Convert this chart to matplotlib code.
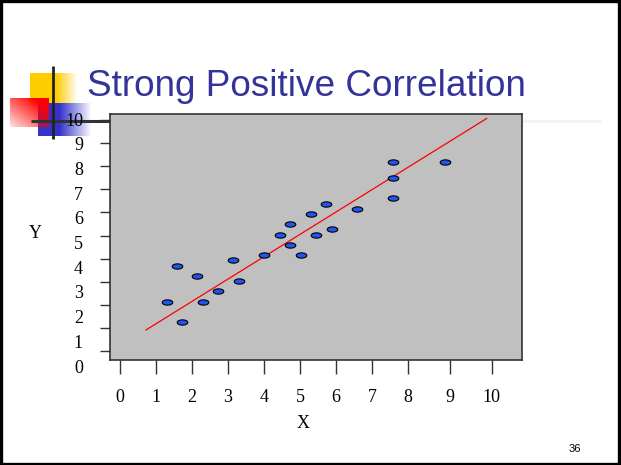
import numpy as np
import matplotlib
matplotlib.use('Agg')
from matplotlib import pyplot as plt
from matplotlib.path import Path
from matplotlib.patches import Rectangle

# scatter data
x_vals = [1.30, 1.57, 1.71, 2.15, 2.30, 2.72, 3.15, 3.30, 4.01, 4.44, 4.72,
          4.72, 5.02, 5.30, 5.44, 5.73, 5.88, 6.59, 7.59, 7.59, 7.59, 9.03]
y_vals = [2.13, 3.69, 1.24, 3.26, 2.13, 2.58, 3.93, 3.03, 4.14, 5.03, 5.48,
          4.59, 4.14, 5.93, 5.03, 6.38, 5.27, 6.16, 8.17, 7.49, 6.61, 8.17]

# fitted line end points
fit_x = [0.72, 10.19]
fit_y = [0.91, 10.07]

xtick_pos = [0, 1, 2, 3, 4, 5, 6, 7, 8, 9.17, 10.33]
xtick_labels = [str(i) for i in range(11)]
ytick_pos = list(range(11))
ytick_labels = [str(i) for i in range(11)]

title = 'Strong Positive Correlation'
page_no = '36'

W, H = 621, 465
fig = plt.figure(figsize=(W / 100, H / 100), dpi=100)
fig.patch.set_facecolor('white')

def fx(px):
    return px / W

def fy(py):
    return 1 - py / H

# slide decoration, drawn in pixel coordinates
deco = fig.add_axes([0, 0, 1, 1], zorder=0)
deco.set_xlim(0, W)
deco.set_ylim(H, 0)
deco.axis('off')

def grad_block(x0, x1, y0, y1, rgb, alpha):
    img = np.zeros(alpha.shape + (4,))
    img[..., :3] = rgb
    img[..., 3] = alpha
    deco.imshow(img, extent=(x0, x1, y1, y0), interpolation='bilinear', aspect='auto')

n = 64
u = np.linspace(0, 1, n)
# yellow: solid on the left, fading out to the right
a_y = np.clip((1 - u) / 0.45, 0, 1)
grad_block(30, 78, 74, 103, (1.0, 0.8, 0.0), np.tile(a_y, (n, 1)))
# blue: solid on the left, fading out to the right
a_b = np.clip((1 - u) / 0.6, 0, 1)
grad_block(38, 92, 103, 136, (0.2, 0.2, 0.8), np.tile(a_b, (n, 1)))
# red: strong at top-right, pale at bottom-left
uu, vv = np.meshgrid(u, u)
a_r = np.clip(0.12 + 0.9 * (uu * 0.6 + (1 - vv) * 0.6), 0, 1)
grad_block(10, 49, 98, 127, (1.0, 0.0, 0.0), a_r)

deco.plot([31, 110], [121, 121], color='#333333', lw=2.2, solid_capstyle='butt')
deco.plot([522, 600], [121, 121], color='#f3f3f3', lw=2.0)
deco.plot([53, 53], [66, 139], color='#222222', lw=2.0, solid_capstyle='butt')

# slide border
fig.patches.append(Rectangle((0.002, 0.003), 0.994, 0.994, transform=fig.transFigure,
                             fill=False, edgecolor='black', lw=2.4))

# main plot box
ax = fig.add_axes([fx(110), fy(360), fx(522) - fx(110), fy(114.5) - fy(360)], zorder=2)
ax.set_facecolor('#C0C0C0')
for s in ax.spines.values():
    s.set_color('#333333')
    s.set_linewidth(1.2)

ellipse_t = np.linspace(0, 2 * np.pi, 41)
ellipse = Path(np.column_stack([np.cos(ellipse_t), 0.5 * np.sin(ellipse_t)]), closed=True)

ax.plot(fit_x, fit_y, color='red', lw=0.9, zorder=2)
ax.scatter(x_vals, y_vals, marker=ellipse, s=58, c='#2255EE',
           edgecolors='black', linewidths=0.8, zorder=3)

ax.set_xlim(-0.28, 11.17)
ax.set_ylim(-0.39, 10.24)
ax.set_xticks(xtick_pos)
ax.set_xticklabels(xtick_labels, fontfamily='Liberation Serif', fontsize=13)
ax.set_yticks(ytick_pos)
ax.set_yticklabels([])
ax.tick_params(axis='x', direction='out', length=10, width=1.0, color='#333333', pad=11)
ax.tick_params(axis='y', direction='out', length=7.2, width=1.0, color='#333333')

# y tick labels sit on their own, slightly wider spacing than the tick marks
lab = fig.add_axes([fx(83), fy(366), 0.001, fy(119) - fy(366)], zorder=1)
lab.set_facecolor('none')
for s in lab.spines.values():
    s.set_visible(False)
lab.set_ylim(0, 10)
lab.set_xticks([])
lab.set_yticks(ytick_pos)
lab.set_yticklabels(ytick_labels, fontfamily='Liberation Serif', fontsize=13)
lab.tick_params(axis='y', length=0, pad=0)

fig.text(fx(303), fy(423), 'X', fontfamily='Liberation Serif', fontsize=13, ha='center', va='center')
fig.text(fx(35), fy(233), 'Y', fontfamily='Liberation Serif', fontsize=13, ha='center', va='center')

fig.text(fx(87), fy(96), title, fontfamily='Liberation Sans', fontsize=26.6,
         color='#333399', ha='left', va='baseline')
fig.text(fx(575), fy(449), page_no, fontfamily='Liberation Sans', fontsize=8,
         ha='center', va='center')

fig.savefig('out.png', dpi=100)
